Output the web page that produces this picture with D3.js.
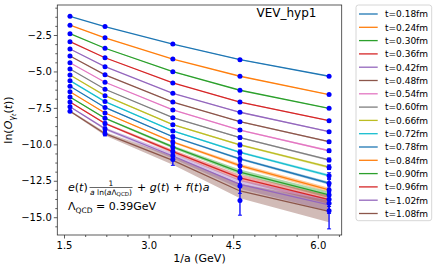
<!DOCTYPE html>
<html>
<head>
<meta charset="utf-8">
<script src="https://cdn.jsdelivr.net/npm/d3@7"></script>
<style>
  body { margin: 0; background: #fff; }
  svg { display: block; font-family: "DejaVu Sans", sans-serif; }
</style>
</head>
<body>
<div id="chart"></div>
<script>
var width = 436,
    height = 269;

// lattice points 1/a (GeV)
var xVals = [1.606, 2.227, 3.43, 4.62, 6.20];

var tLabels = ["t=0.18fm", "t=0.24fm", "t=0.30fm", "t=0.36fm", "t=0.42fm", "t=0.48fm",
    "t=0.54fm", "t=0.60fm", "t=0.66fm", "t=0.72fm", "t=0.78fm", "t=0.84fm",
    "t=0.90fm", "t=0.96fm", "t=1.02fm", "t=1.08fm"];

// ln(O) data, one row per t, one value per lattice
var lnO = [
    [-1.22, -1.92, -3.12, -4.19, -5.33],
    [-1.83, -2.69, -4.15, -5.33, -6.59],
    [-2.41, -3.41, -5.02, -6.29, -7.53],
    [-2.96, -4.06, -5.79, -7.10, -8.38],
    [-3.46, -4.67, -6.50, -7.80, -9.13],
    [-3.94, -5.23, -7.10, -8.45, -9.82],
    [-4.40, -5.74, -7.64, -9.02, -10.44],
    [-4.83, -6.22, -8.17, -9.54, -11.07],
    [-5.24, -6.66, -8.65, -10.04, -11.57],
    [-5.63, -7.07, -9.08, -10.55, -12.15],
    [-6.02, -7.47, -9.48, -11.00, -12.67],
    [-6.39, -7.85, -9.84, -11.46, -13.13],
    [-6.75, -8.21, -10.18, -11.88, -13.47],
    [-7.10, -8.57, -10.50, -12.33, -13.77],
    [-7.42, -8.93, -10.78, -12.86, -14.04],
    [-7.73, -9.27, -11.04, -13.86, -14.55]
];

var lnOErr = [
    [0.01, 0.01, 0.02, 0.02, 0.03],
    [0.01, 0.01, 0.02, 0.03, 0.04],
    [0.01, 0.02, 0.03, 0.04, 0.05],
    [0.01, 0.02, 0.03, 0.05, 0.06],
    [0.01, 0.02, 0.04, 0.06, 0.07],
    [0.02, 0.03, 0.05, 0.07, 0.09],
    [0.02, 0.03, 0.06, 0.09, 0.11],
    [0.02, 0.04, 0.07, 0.11, 0.13],
    [0.02, 0.04, 0.08, 0.13, 0.16],
    [0.03, 0.05, 0.10, 0.16, 0.20],
    [0.03, 0.06, 0.12, 0.20, 0.25],
    [0.03, 0.07, 0.15, 0.25, 0.30],
    [0.04, 0.08, 0.18, 0.30, 0.38],
    [0.04, 0.10, 0.22, 0.38, 0.50],
    [0.05, 0.12, 0.28, 0.50, 0.70],
    [0.06, 0.15, 0.40, 1.00, 1.25]
];

// fit curve e(t)/(a ln(a L)) + g(t) + f(t) a evaluated at the lattices
var fitLnO = [
    [-1.22, -1.92, -3.12, -4.19, -5.33],
    [-1.83, -2.69, -4.15, -5.33, -6.59],
    [-2.41, -3.41, -5.02, -6.29, -7.53],
    [-2.96, -4.06, -5.79, -7.10, -8.38],
    [-3.46, -4.67, -6.50, -7.80, -9.13],
    [-3.94, -5.23, -7.10, -8.45, -9.82],
    [-4.40, -5.74, -7.64, -9.02, -10.44],
    [-4.83, -6.22, -8.17, -9.54, -11.07],
    [-5.24, -6.66, -8.65, -10.04, -11.57],
    [-5.63, -7.07, -9.08, -10.55, -12.15],
    [-6.02, -7.47, -9.48, -11.00, -12.67],
    [-6.39, -7.85, -9.84, -11.46, -13.13],
    [-6.75, -8.21, -10.18, -11.90, -13.47],
    [-7.10, -8.57, -10.50, -12.30, -13.80],
    [-7.42, -8.93, -10.80, -12.75, -14.15],
    [-7.73, -9.27, -11.10, -13.20, -14.60]
];

var fitErr = [
    [0.01, 0.01, 0.01, 0.02, 0.02],
    [0.01, 0.01, 0.01, 0.02, 0.02],
    [0.01, 0.01, 0.02, 0.02, 0.03],
    [0.01, 0.01, 0.02, 0.03, 0.03],
    [0.01, 0.01, 0.02, 0.03, 0.04],
    [0.01, 0.02, 0.02, 0.04, 0.05],
    [0.01, 0.02, 0.03, 0.04, 0.06],
    [0.01, 0.02, 0.03, 0.05, 0.07],
    [0.01, 0.02, 0.04, 0.06, 0.08],
    [0.02, 0.02, 0.04, 0.07, 0.09],
    [0.02, 0.03, 0.05, 0.08, 0.10],
    [0.02, 0.04, 0.07, 0.12, 0.15],
    [0.03, 0.05, 0.10, 0.17, 0.22],
    [0.03, 0.06, 0.13, 0.22, 0.30],
    [0.04, 0.08, 0.18, 0.30, 0.42],
    [0.06, 0.12, 0.30, 0.50, 0.75]
];

var xTicks = [1.5, 3.0, 4.5, 6.0];
var yTicks = [-15.0, -12.5, -10.0, -7.5, -5.0, -2.5];

var colors = ["#1f77b4", "#ff7f0e", "#2ca02c", "#d62728", "#9467bd",
    "#8c564b", "#e377c2", "#7f7f7f", "#bcbd22", "#17becf"];

var pLeft = 57.3, pRight = 341.7, pTop = 5, pBottom = 235;

var svg = d3.select("#chart")
    .append("svg")
    .attr("width", width)
    .attr("height", height);

var x = d3.scaleLinear().domain([1.381, 6.424]).range([pLeft, pRight]);
var y = d3.scaleLinear().domain([-16.22, -0.442]).range([pBottom, pTop]);

svg.append("defs").append("clipPath").attr("id", "clip")
    .append("rect")
    .attr("x", pLeft).attr("y", pTop)
    .attr("width", pRight - pLeft).attr("height", pBottom - pTop);

var plot = svg.append("g").attr("clip-path", "url(#clip)");

// bands
var area = d3.area()
    .x(function(d) { return x(d[0]); })
    .y0(function(d) { return y(d[1] - d[2]); })
    .y1(function(d) { return y(d[1] + d[2]); });

var line = d3.line()
    .x(function(d) { return x(d[0]); })
    .y(function(d) { return y(d[1]); });

tLabels.forEach(function(lab, i) {
    var pts = xVals.map(function(xv, j) { return [xv, fitLnO[i][j], fitErr[i][j]]; });
    plot.append("path")
        .attr("d", area(pts))
        .style("fill", colors[i % 10])
        .style("opacity", 0.4);
});

tLabels.forEach(function(lab, i) {
    var pts = xVals.map(function(xv, j) { return [xv, fitLnO[i][j]]; });
    plot.append("path")
        .attr("d", line(pts))
        .style("fill", "none")
        .style("stroke", colors[i % 10])
        .style("stroke-width", 1.3);
});

// data points with error bars
tLabels.forEach(function(lab, i) {
    xVals.forEach(function(xv, j) {
        var v = lnO[i][j], e = lnOErr[i][j];
        var cx = x(xv);
        plot.append("line")
            .attr("x1", cx).attr("x2", cx)
            .attr("y1", y(v - e)).attr("y2", y(v + e))
            .style("stroke", "blue").style("stroke-width", 1.3);
        [v - e, v + e].forEach(function(ev) {
            plot.append("line")
                .attr("x1", cx - 2).attr("x2", cx + 2)
                .attr("y1", y(ev)).attr("y2", y(ev))
                .style("stroke", "blue").style("stroke-width", 1);
        });
        plot.append("circle")
            .attr("cx", cx).attr("cy", y(v))
            .attr("r", 2.5)
            .style("fill", "blue");
    });
});

// axes
var xMinor = d3.range(1.5, 6.43, 0.375).filter(function(d) { return Math.abs(d / 1.5 - Math.round(d / 1.5)) > 1e-6; });
var yMinor = d3.range(-16.25, -0.4, 0.625).filter(function(d) {
    return Math.abs(d / 2.5 - Math.round(d / 2.5)) > 1e-6 && d >= -16.22 && d <= -0.442;
});

svg.append("g")
    .attr("transform", "translate(0," + pBottom + ")")
    .call(d3.axisBottom(x).tickValues(xTicks).tickFormat(d3.format(".1f")).tickSize(3.5).tickPadding(3.5));
svg.append("g")
    .attr("transform", "translate(0," + pBottom + ")")
    .call(d3.axisBottom(x).tickValues(xMinor).tickFormat("").tickSize(2));

svg.append("g")
    .attr("transform", "translate(" + pLeft + ",0)")
    .call(d3.axisLeft(y).tickValues(yTicks).tickFormat(d3.format(".1f")).tickSize(3.5).tickPadding(2));
svg.append("g")
    .attr("transform", "translate(" + pLeft + ",0)")
    .call(d3.axisLeft(y).tickValues(yMinor).tickFormat("").tickSize(2));

svg.selectAll(".domain").remove();
svg.selectAll(".tick line").style("stroke", "#333").style("stroke-width", 0.8);
svg.selectAll(".tick text")
    .style("font-family", "DejaVu Sans")
    .style("font-size", "10px")
    .style("fill", "#000");

svg.append("rect")
    .attr("x", pLeft).attr("y", pTop)
    .attr("width", pRight - pLeft).attr("height", pBottom - pTop)
    .style("fill", "none")
    .style("stroke", "#333")
    .style("stroke-width", 0.8);

// axis labels
svg.append("text")
    .attr("x", (pLeft + pRight) / 2)
    .attr("y", 262)
    .attr("text-anchor", "middle")
    .style("font-size", "11px")
    .text("1/a (GeV)");

var yl = svg.append("text")
    .attr("transform", "translate(12," + ((pTop + pBottom) / 2) + ") rotate(-90)")
    .attr("text-anchor", "middle")
    .style("font-size", "11px");
yl.append("tspan").text("ln(");
yl.append("tspan").style("font-style", "italic").text("O");
yl.append("tspan").attr("dy", 2.5).style("font-size", "8px").style("font-style", "italic").text("γ");
yl.append("tspan").attr("dy", 1.5).style("font-size", "6px").style("font-style", "italic").text("t");
yl.append("tspan").attr("dy", -4).text("(");
yl.append("tspan").style("font-style", "italic").text("t");
yl.append("tspan").text("))");

// title
svg.append("text")
    .attr("x", 256.5)
    .attr("y", 16.5)
    .style("font-size", "12px")
    .text("VEV_hyp1");

// formula
var f1 = svg.append("text")
    .attr("x", 68)
    .attr("y", 191)
    .style("font-size", "11px");
f1.append("tspan").style("font-style", "italic").text("e");
f1.append("tspan").text("(");
f1.append("tspan").style("font-style", "italic").text("t");
f1.append("tspan").text(")");

svg.append("text")
    .attr("x", 111)
    .attr("y", 185.5)
    .attr("text-anchor", "middle")
    .style("font-size", "7.5px")
    .text("1");
svg.append("line")
    .attr("x1", 89.5).attr("x2", 132.5)
    .attr("y1", 187.5).attr("y2", 187.5)
    .style("stroke", "#000").style("stroke-width", 0.6);
var den = svg.append("text")
    .attr("x", 111)
    .attr("y", 194.5)
    .attr("text-anchor", "middle")
    .style("font-size", "7.5px");
den.append("tspan").style("font-style", "italic").text("a");
den.append("tspan").text(" ln(");
den.append("tspan").style("font-style", "italic").text("a");
den.append("tspan").text("Λ");
den.append("tspan").attr("dy", 1.2).style("font-size", "5.5px").text("QCD");
den.append("tspan").attr("dy", -1.2).text(")");

var f2 = svg.append("text")
    .attr("x", 137)
    .attr("y", 191)
    .style("font-size", "11px")
    .attr("xml:space", "preserve");
f2.append("tspan").text("+ ");
f2.append("tspan").style("font-style", "italic").text("g");
f2.append("tspan").text("(");
f2.append("tspan").style("font-style", "italic").text("t");
f2.append("tspan").text(") + ");
f2.append("tspan").style("font-style", "italic").text("f");
f2.append("tspan").text("(");
f2.append("tspan").style("font-style", "italic").text("t");
f2.append("tspan").text(")");
f2.append("tspan").style("font-style", "italic").text("a");

var f3 = svg.append("text")
    .attr("x", 68)
    .attr("y", 210)
    .style("font-size", "11px");
f3.append("tspan").text("Λ");
f3.append("tspan").attr("dy", 2.5).style("font-size", "7.5px").text("QCD");
f3.append("tspan").attr("dy", -2.5).text(" = 0.39GeV");

// legend
var legend = svg.append("g");
legend.append("rect")
    .attr("x", 356).attr("y", 5)
    .attr("width", 75.7).attr("height", 215.7)
    .attr("rx", 2.5)
    .style("fill", "#fff").style("fill-opacity", 0.8)
    .style("stroke", "#ccc").style("stroke-width", 0.8);

tLabels.forEach(function(lab, i) {
    var ly = 14 + 13.3 * i;
    legend.append("line")
        .attr("x1", 359).attr("x2", 377.7)
        .attr("y1", ly).attr("y2", ly)
        .style("stroke", colors[i % 10])
        .style("stroke-width", 1.3);
    legend.append("text")
        .attr("x", 385)
        .attr("y", ly + 3.3)
        .style("font-size", "9px")
        .text(lab);
});
</script>
</body>
</html>
